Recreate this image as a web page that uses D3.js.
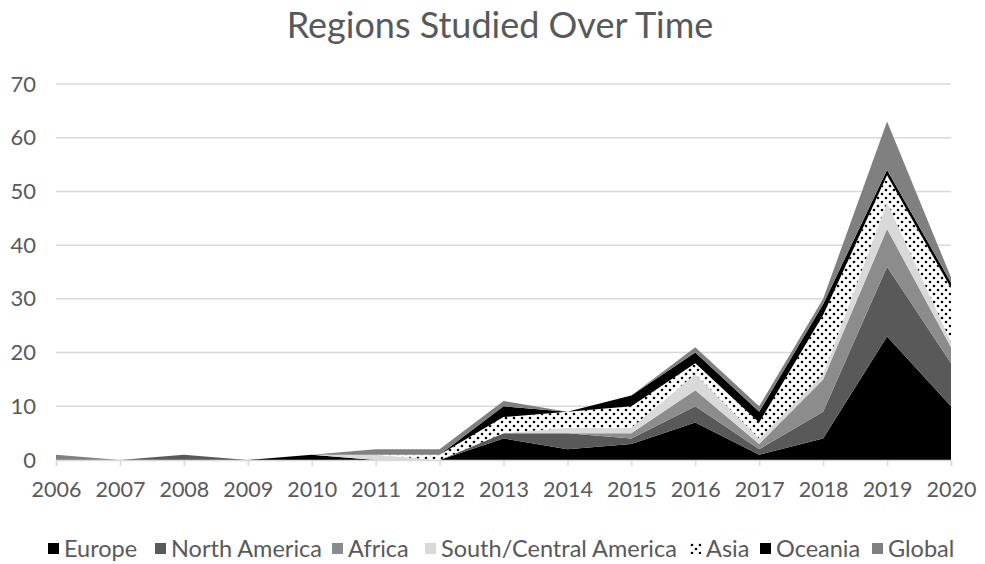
<!DOCTYPE html>
<html><head><meta charset="utf-8">
<script src="https://cdn.jsdelivr.net/npm/d3@7"></script>
<style>body{margin:0;background:#fff}svg{display:block}</style>
</head><body><svg id="c" width="985" height="564"></svg>
<script>
const years = [2006,2007,2008,2009,2010,2011,2012,2013,2014,2015,2016,2017,2018,2019,2020];
const europe       = [0,0,0,0,1,0,0,4,2,3,7,1,4,23,10];
const northAmerica = [0,0,1,0,0,0,0,1,3,1,3,1,5,13,8];
const africa       = [0,0,0,0,0,0,0,0,0,1,3,1,6,7,3];
const southCentral = [0,0,0,0,0,1,0,0,1,1,3,1,1,5,1];
const asia         = [0,0,0,0,0,0,1,3,3,4,2,3,11,5,10];
const oceania      = [0,0,0,0,0,0,0,2,0,2,2,2,2,1,1];
const globalS      = [1,0,0,0,0,1,1,1,0,0,1,1,1,9,1];
const seriesNames = ["Europe","North America","Africa","South/Central America","Asia","Oceania","Global"];
const seriesValues = [europe,northAmerica,africa,southCentral,asia,oceania,globalS];
const yTicks = [0,10,20,30,40,50,60,70];
const title = "Regions Studied Over Time";

const fills = ["#000000","#595959","#8c8c8c","#d9d9d9","url(#dots)","#000000","#808080"];
const font = "Lato, 'Open Sans', sans-serif";
const svg = d3.select("#c");

const defs = svg.append("defs");
const pat = defs.append("pattern").attr("id","dots").attr("patternUnits","userSpaceOnUse")
  .attr("width",8).attr("height",8);
pat.append("rect").attr("width",8).attr("height",8).attr("fill","#fff");
pat.append("circle").attr("cx",2).attr("cy",2).attr("r",1.3).attr("fill","#000");
pat.append("circle").attr("cx",6).attr("cy",6).attr("r",1.3).attr("fill","#000");

const x = d3.scaleLinear().domain([years[0], years[years.length-1]]).range([56,951]);
const y = d3.scaleLinear().domain([0,70]).range([460,84]);

// gridlines
svg.append("g").selectAll("line").data(yTicks.filter(d=>d>0)).join("line")
  .attr("x1",56).attr("x2",951).attr("y1",d=>y(d)).attr("y2",d=>y(d))
  .attr("stroke","#d9d9d9").attr("stroke-width",1.5);

// stack
const table = years.map((yr,i)=>{const o={year:yr}; seriesNames.forEach((n,k)=>o[n]=seriesValues[k][i]); return o;});
const stack = d3.stack().keys(seriesNames)(table);
const area = d3.area().x(d=>x(d.data.year)).y0(d=>y(d[0])).y1(d=>y(d[1]));
svg.append("g").selectAll("path").data(stack).join("path")
  .attr("d",area).attr("fill",(d,i)=>fills[i]);

// y axis labels
const yAxis = d3.axisLeft(y).tickValues(yTicks).tickSize(0).tickPadding(0);
const gy = svg.append("g").attr("transform","translate(36,0)").call(yAxis);
gy.select(".domain").remove();
gy.selectAll("text").attr("fill","#595959").style("font-family",font).style("font-size","22px");

// x axis
const xAxis = d3.axisBottom(x).tickValues(years).tickFormat(d3.format("d")).tickSize(6).tickPadding(16);
const gx = svg.append("g").attr("transform","translate(0,460)").call(xAxis);
gx.select(".domain").attr("stroke","#d9d9d9").attr("stroke-width",1.5);
gx.selectAll(".tick line").attr("stroke","#d9d9d9").attr("stroke-width",1.5);
gx.selectAll("text").attr("fill","#595959").style("font-family",font).style("font-size","21.5px");

// title
svg.append("text").attr("x",500).attr("y",38).attr("text-anchor","middle")
  .attr("fill","#595959").style("font-family",font).style("font-size","36px").text(title);

// legend
const legX = [48,155,332,425,690,760,872];
const lg = svg.append("g").selectAll("g").data(seriesNames).join("g")
  .attr("transform",(d,i)=>`translate(${legX[i]},543)`);
lg.append("rect").attr("width",11).attr("height",11).attr("fill",(d,i)=>fills[i]);
lg.append("text").attr("x",16).attr("y",14).attr("fill","#595959")
  .style("font-family",font).style("font-size","23.5px").text(d=>d);
</script></body></html>
